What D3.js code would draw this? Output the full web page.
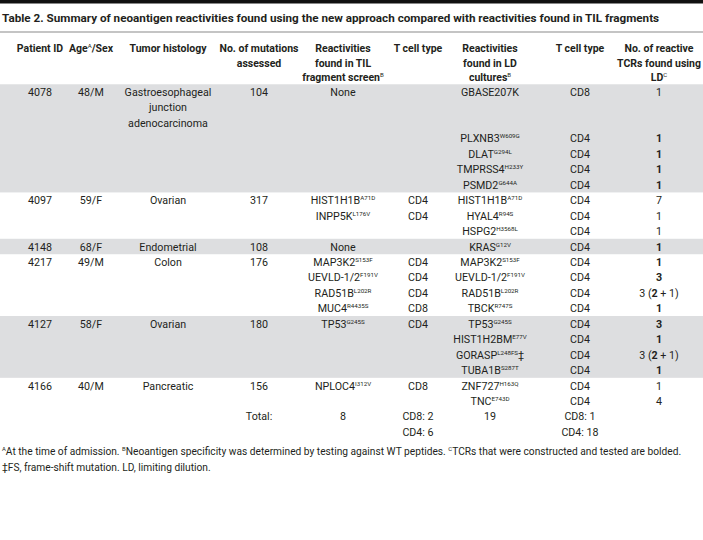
<!DOCTYPE html>
<html><head><meta charset="utf-8">
<script src="https://cdn.jsdelivr.net/npm/d3@7"></script>
<style>
body{margin:0;background:#fff}
svg{display:block}
text{font-family:Roboto,"Open Sans",sans-serif;fill:#231f20}
</style>
</head><body><div id="chart"></div>
<script>
// ---------- data ----------
const title = "Table 2. Summary of neoantigen reactivities found using the new approach compared with reactivities found in TIL fragments";
const columns = ["pid","age","hist","nmut","frag","tc1","ld","tc2","ntcr"];
const headerLines = [
  ["Patient ID"],
  ["Age{A}/Sex"],
  ["Tumor histology"],
  ["No. of mutations","assessed"],
  ["Reactivities","found in TIL","fragment screen{B}"],
  ["T cell type"],
  ["Reactivities","found in LD","cultures{B}"],
  ["T cell type"],
  ["No. of reactive","TCRs found using","LD{C}"]
];
const patientIds = ["4078","4097","4148","4217","4127","4166"];
const ageSex = ["48/M","59/F","68/F","49/M","58/F","40/M"];
const histology = [["Gastroesophageal","junction","adenocarcinoma"],["Ovarian"],["Endometrial"],["Colon"],["Ovarian"],["Pancreatic"]];
const mutationsAssessed = ["104","317","108","176","180","156"];
const tilFragment = [
  ["None"],
  ["HIST1H1B{A71D}","INPP5K{L176V}"],
  ["None"],
  ["MAP3K2{S153F}","UEVLD-1/2{F191V}","RAD51B{L202R}","MUC4{R4435S}"],
  ["TP53{G245S}"],
  ["NPLOC4{I312V}"]
];
const tilTcell = [[""],["CD4","CD4"],[""],["CD4","CD4","CD4","CD8"],["CD4"],["CD8"]];
const ldReactivity = [
  ["GBASE207K","PLXNB3{W609G}","DLAT{G294L}","TMPRSS4{H233Y}","PSMD2{G644A}"],
  ["HIST1H1B{A71D}","HYAL4{R94S}","HSPG2{H3568L}"],
  ["KRAS{G12V}"],
  ["MAP3K2{S153F}","UEVLD-1/2{F191V}","RAD51B{L202R}","TBCK{R747S}"],
  ["TP53{G245S}","HIST1H2BM{E77V}","GORASP{L248FS}‡","TUBA1B{S287T}"],
  ["ZNF727{H163Q}","TNC{E743D}"]
];
const ldTcell = [
  ["CD8","CD4","CD4","CD4","CD4"],
  ["CD4","CD4","CD4"],
  ["CD4"],
  ["CD4","CD4","CD4","CD4"],
  ["CD4","CD4","CD4","CD4"],
  ["CD4","CD4"]
];
const tcrCounts = [
  ["1","*1*","*1*","*1*","*1*"],
  ["7","1","1"],
  ["*1*"],
  ["*1*","*3*","3 (*2* + 1)","*1*"],
  ["*3*","*1*","3 (*2* + 1)","*1*"],
  ["1","4"]
];
const totalLabel = "Total:";
const tilTotal = "8";
const tilTcellTotals = ["CD8: 2","CD4: 6"];
const ldTotal = "19";
const ldTcellTotals = ["CD8: 1","CD4: 18"];
const footnotes = [
  "{A}At the time of admission. {B}Neoantigen specificity was determined by testing against WT peptides. {C}TCRs that were constructed and tested are bolded.",
  "‡FS, frame-shift mutation. LD, limiting dilution."
];

// ---------- layout ----------
const W = 703, H = 540;
const FS = 10.7, HFS = 10.5;
const colX = d3.scaleOrdinal().domain(columns).range([40,91,168,259,343,418,490,580,659]);
const lineY = d3.scaleLinear().domain([0,1]).range([92, 92 + 15.45]);
const headY = d3.scaleLinear().domain([0,1]).range([48, 62.5]);
const bandH = lineY(1) - lineY(0);

const svg = d3.select("#chart").append("svg").attr("width", W).attr("height", H);

// rich text: {x} superscript, *x* bold
function rich(sel, str, size) {
  const parts = str.split(/(\{[^}]*\}|\*[^*]*\*)/).filter(s => s.length);
  let shifted = false;
  parts.forEach(p => {
    const t = sel.append("tspan");
    if (p.startsWith("{")) {
      t.text(p.slice(1,-1)).attr("font-size", size*0.58).attr("dy", shifted ? 0 : -4).attr("font-weight", "normal");
      shifted = true;
    } else {
      if (shifted) { t.attr("dy", 4); shifted = false; }
      if (p.startsWith("*")) t.text(p.slice(1,-1)).attr("font-weight", "bold");
      else t.text(p);
    }
  });
}
function cell(col, y, str, opts = {}) {
  const size = opts.size || FS;
  const t = svg.append("text")
    .attr("x", colX(col)).attr("y", y + 4)
    .attr("text-anchor", "middle")
    .attr("font-size", size)
    .attr("font-weight", opts.bold ? "bold" : "normal");
  rich(t, str, size);
  return t;
}

// top rule + title
svg.append("rect").attr("x",0).attr("y",0).attr("width",W).attr("height",3.5).attr("fill","#111");
svg.append("text").attr("x",2).attr("y",22).attr("font-size",11.7).attr("font-weight","bold").text(title);
svg.append("rect").attr("x",0).attr("y",31.5).attr("width",W).attr("height",1).attr("fill","#8a8a8a");

// headers
headerLines.forEach((lines, ci) => {
  lines.forEach((ln, li) => cell(columns[ci], headY(li), ln, {bold: true, size: HFS}));
});

// body
let line = 0;
patientIds.forEach((pid, i) => {
  const nSub = Math.max(tilFragment[i].length, ldReactivity[i].length);
  const firstH = histology[i].length;
  const subLine = k => line + (k === 0 ? 0 : firstH + k - 1);
  const nLines = firstH + nSub - 1;
  if (i % 2 === 0) {
    svg.insert("rect", "text")
      .attr("x", 0).attr("width", W)
      .attr("y", lineY(line) - bandH/2)
      .attr("height", lineY(line + nLines - 1) - lineY(line) + bandH)
      .attr("fill", "#dddee0");
  }
  cell("pid", lineY(line), pid);
  cell("age", lineY(line), ageSex[i]);
  histology[i].forEach((h, k) => cell("hist", lineY(line + k), h));
  cell("nmut", lineY(line), mutationsAssessed[i]);
  tilFragment[i].forEach((g, k) => cell("frag", lineY(subLine(k)), g));
  tilTcell[i].forEach((g, k) => { if (g) cell("tc1", lineY(subLine(k)), g); });
  ldReactivity[i].forEach((g, k) => cell("ld", lineY(subLine(k)), g));
  ldTcell[i].forEach((g, k) => cell("tc2", lineY(subLine(k)), g));
  tcrCounts[i].forEach((g, k) => cell("ntcr", lineY(subLine(k)), g));
  line += nLines;
});

// totals
cell("nmut", lineY(line), totalLabel);
cell("frag", lineY(line), tilTotal);
tilTcellTotals.forEach((g, k) => cell("tc1", lineY(line + k), g));
cell("ld", lineY(line), ldTotal);
ldTcellTotals.forEach((g, k) => cell("tc2", lineY(line + k), g));

// footnotes
footnotes.forEach((f, k) => {
  const t = svg.append("text").attr("x", 2).attr("y", 455 + k*15.5).attr("font-size", 10.2);
  rich(t, f, 10.2);
});
</script>
</body></html>
